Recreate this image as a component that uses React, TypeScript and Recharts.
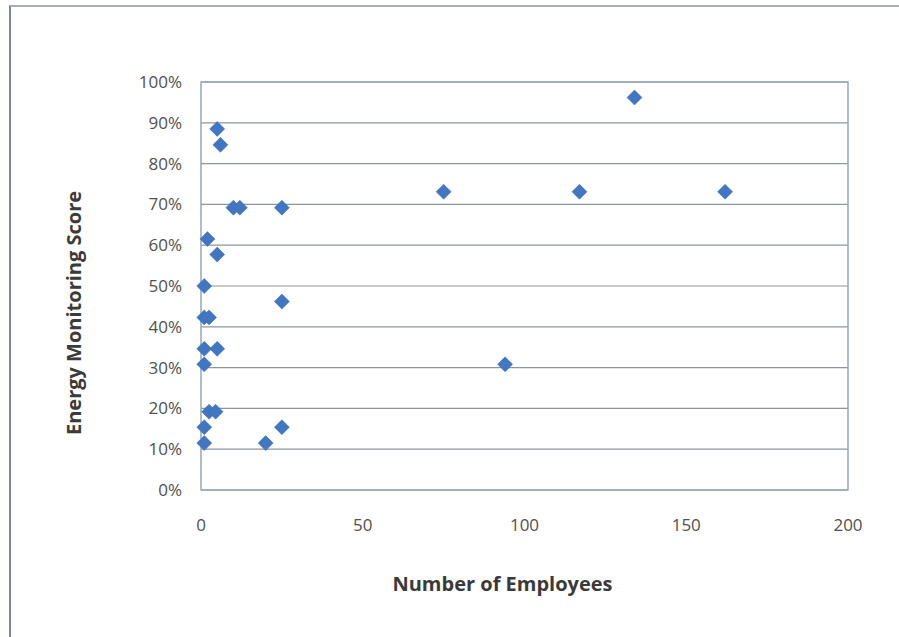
import { ScatterChart, Scatter, XAxis, YAxis, CartesianGrid, ReferenceArea, Label } from "recharts"

// number of employees per company and its energy monitoring score
const employees = [134, 75, 117, 162, 94, 5, 6, 10, 12, 25, 2, 5, 1, 25, 1, 2.5, 1, 5, 1, 2.5, 4.5, 1, 25, 1, 20]
const scores = [0.962, 0.731, 0.731, 0.731, 0.308, 0.885, 0.846, 0.692, 0.692, 0.692, 0.615, 0.577, 0.5, 0.462, 0.423, 0.423, 0.346, 0.346, 0.308, 0.192, 0.192, 0.154, 0.154, 0.115, 0.115]

const xTicks = [0, 50, 100, 150, 200]
const yTicks = [0, 0.1, 0.2, 0.3, 0.4, 0.5, 0.6, 0.7, 0.8, 0.9, 1]

const points = employees.map((x, i) => ({ x, y: scores[i] }))

const FONT = "'Open Sans', sans-serif"
const titleStyle = { fill: "#3a3a3a", fontSize: 20, fontWeight: 700, fontFamily: FONT }

const Diamond = (props: any) => {
  const { cx, cy } = props
  const r = 7.5
  return (
    <polygon
      points={`${cx},${cy - r} ${cx + r},${cy} ${cx},${cy + r} ${cx - r},${cy}`}
      fill="#4276c0"
      stroke="#3a6db5"
      strokeWidth={0.5}
    />
  )
}

const XTitle = ({ viewBox }: any) => {
  const x = viewBox.x + viewBox.width / 2 - 22
  const y = viewBox.y + 93
  return (
    <text x={x} y={y} textAnchor="middle" dominantBaseline="central" style={titleStyle}>
      Number of Employees
    </text>
  )
}

const YTitle = ({ viewBox }: any) => {
  const x = viewBox.x - 68
  const y = viewBox.y + viewBox.height / 2 + 27
  return (
    <text x={x} y={y} textAnchor="middle" dominantBaseline="central" transform={`rotate(-90, ${x}, ${y})`} style={titleStyle}>
      Energy Monitoring Score
    </text>
  )
}

export default function App() {
  return (
    <div style={{ position: "absolute", left: 0, top: 0, width: 899, height: 637, background: "#fff" }}>
      <div
        style={{
          position: "absolute",
          left: 9,
          top: 5,
          width: 890,
          height: 632,
          borderLeft: "2px solid #7e8596",
          borderTop: "2px solid #a9adb8",
        }}
      />
      <ScatterChart
        width={899}
        height={637}
        margin={{ top: 82, right: 51, bottom: 87, left: 141 }}
        style={{ position: "absolute", left: 0, top: 0 }}
      >
        <CartesianGrid vertical={false} stroke="#8e959c" strokeWidth={1.2} />
        <XAxis
          type="number"
          dataKey="x"
          domain={[0, 200]}
          ticks={xTicks}
          tickLine={false}
          axisLine={false}
          height={60}
          tickMargin={23}
          tick={{ fill: "#505050", fontSize: 17, fontFamily: FONT }}
        >
          <Label content={<XTitle />} />
        </XAxis>
        <YAxis
          type="number"
          dataKey="y"
          domain={[0, 1]}
          ticks={yTicks}
          tickLine={false}
          axisLine={false}
          width={60}
          tickMargin={13}
          tickFormatter={(v: number) => `${Math.round(v * 100)}%`}
          tick={{ fill: "#505050", fontSize: 17, fontFamily: FONT }}
        >
          <Label content={<YTitle />} />
        </YAxis>
        <ReferenceArea x1={0} x2={200} y1={0} y2={1} fill="none" stroke="#97a6bb" strokeWidth={1.5} fillOpacity={0} />
        <Scatter data={points} shape={<Diamond />} isAnimationActive={false} />
      </ScatterChart>
    </div>
  )
}
